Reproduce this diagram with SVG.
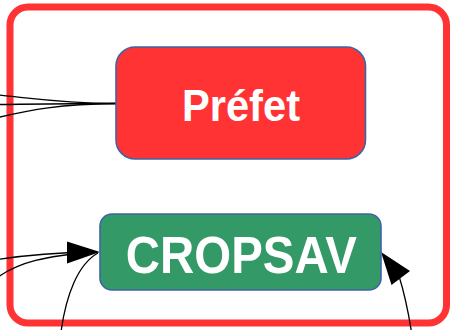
<svg xmlns="http://www.w3.org/2000/svg" width="451" height="330" viewBox="0 0 451 330">
<style>
.box{stroke:#3e64a8;stroke-width:1.6}
.lbl{font-family:"Liberation Sans",Arial,sans-serif;font-weight:bold;fill:#ffffff;text-anchor:middle}
.edge{fill:none;stroke:#000000;stroke-width:1.3}
.head{fill:#000000}
</style>
<rect x="10" y="7" width="436.5" height="316" rx="18" fill="#ffffff" stroke="#ff3333" stroke-width="7"/>
<g id="connectors">
<path class="edge" d="M -2,95 C 30,98 60,103 116,103.5"/>
<path class="edge" d="M -2,104.5 C 40,104 70,103.5 116,103.5"/>
<path class="edge" d="M -2,117.5 C 30,110 60,104 116,103.5"/>
<path class="edge" d="M -2,259.5 C 30,254.5 60,252.5 92,252"/>
<path class="edge" d="M -2,277 C 20,262 45,256 92,252.5"/>
<path class="edge" d="M 61,332 C 66,295 78,264 98,253"/>
<polygon class="head" points="100,252 67,241.5 67,263.5"/>
<path class="edge" d="M 411.5,332 C 408,310 404,292 399,276"/>
<polygon class="head" points="381,252 391.5,285 410,271"/>
</g>
<g id="prefet">
<rect class="box" x="116" y="47" width="249.5" height="112" rx="19" fill="#ff3333"/>
<text class="lbl" x="241" y="121" font-size="44" textLength="118" lengthAdjust="spacingAndGlyphs">Préfet</text>
</g>
<g id="cropsav">
<rect class="box" x="100" y="214" width="281" height="76" rx="12" fill="#339966"/>
<text class="lbl" x="241.3" y="273" font-size="51" textLength="231" lengthAdjust="spacingAndGlyphs">CROPSAV</text>
</g>
</svg>
